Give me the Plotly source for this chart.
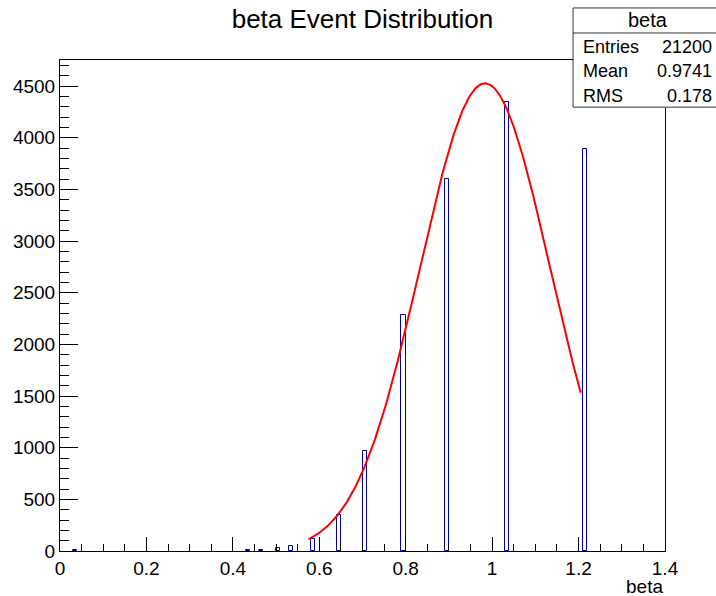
import numpy as np
import plotly.graph_objects as go

# Histogram of beta: bin low edges, bin width and counts per bin
BIN_WIDTH = 0.01
bin_lows = [0.03, 0.43, 0.46, 0.50, 0.53, 0.58, 0.64, 0.70, 0.79, 0.89, 1.03, 1.21]
bin_counts = [8, 5, 6, 26, 51, 116, 348, 965, 2284, 3604, 4346, 3888]

# Gaussian fit parameters and fit range
FIT_CONST = 4526.0
FIT_MEAN = 0.9835
FIT_SIGMA = 0.1505
FIT_LO, FIT_HI = 0.575, 1.205

# Statistics box contents
STAT_NAME = "beta"
ENTRIES = 21200
MEAN = 0.9741
RMS = 0.178

X_RANGE = [0, 1.4]
Y_MAX = 1.05 * FIT_CONST

FONT = "Liberation Sans, Arial, Helvetica, sans-serif"

centers = [lo + BIN_WIDTH / 2 for lo in bin_lows]
fit_x = np.linspace(FIT_LO, FIT_HI, 300)
fit_y = FIT_CONST * np.exp(-0.5 * ((fit_x - FIT_MEAN) / FIT_SIGMA) ** 2)

fig = go.Figure()
fig.add_trace(go.Bar(
    x=centers, y=bin_counts, width=BIN_WIDTH,
    marker=dict(color="white", line=dict(color="#000099", width=1)),
    showlegend=False, hoverinfo="x+y",
))
fig.add_trace(go.Scatter(
    x=fit_x, y=fit_y, mode="lines",
    line=dict(color="#ff0000", width=2),
    showlegend=False, hoverinfo="skip",
))

axis_common = dict(
    showline=True, linecolor="black", linewidth=1, mirror=True,
    showgrid=False, zeroline=False,
    ticks="inside", tickcolor="black", tickwidth=1,
    tickfont=dict(family=FONT, size=19, color="black"),
)

fig.update_xaxes(
    range=X_RANGE, tick0=0, dtick=0.2, ticklen=14,
    minor=dict(ticks="inside", dtick=0.05, ticklen=7, tickcolor="black", showgrid=False),
    **axis_common,
)
fig.update_yaxes(
    range=[0, Y_MAX], tick0=0, dtick=500, ticklen=18,
    minor=dict(ticks="inside", dtick=100, ticklen=9, tickcolor="black", showgrid=False),
    **axis_common,
)

# Statistics box (paper coordinates, extends past the frame on the right)
bx0, bx1 = 0.848, 1.095
by0, by1 = 0.904, 1.106
div_y = 1.055
fig.add_shape(type="rect", xref="paper", yref="paper", x0=bx0, x1=bx1, y0=by0, y1=by1,
              fillcolor="white", line=dict(color="#333333", width=1), layer="above")
fig.add_shape(type="line", xref="paper", yref="paper", x0=bx0, x1=bx1, y0=div_y, y1=div_y,
              line=dict(color="#333333", width=1), layer="above")

fig.add_annotation(text=STAT_NAME, xref="paper", yref="paper", x=(bx0 + bx1) / 2, y=1.0815,
                   xanchor="center", yanchor="middle", showarrow=False,
                   font=dict(family=FONT, size=20, color="black"))
rows = [("Entries", f"{ENTRIES}", 1.0265), ("Mean", f"{MEAN:.4g}", 0.9776), ("RMS", f"{RMS:.4g}", 0.9267)]
for label, value, yy in rows:
    fig.add_annotation(text=label, xref="paper", yref="paper", x=0.8612, y=yy,
                       xanchor="left", yanchor="middle", showarrow=False,
                       font=dict(family=FONT, size=18, color="black"))
    fig.add_annotation(text=value, xref="paper", yref="paper", x=1.081, y=yy,
                       xanchor="right", yanchor="middle", showarrow=False,
                       font=dict(family=FONT, size=18, color="black"))

# x-axis title at the lower right
fig.add_annotation(text="beta", xref="paper", yref="paper", x=1.0, y=-0.0713,
                   xanchor="right", yanchor="middle", showarrow=False,
                   font=dict(family=FONT, size=19, color="black"))

fig.update_layout(
    width=716, height=596,
    margin=dict(l=60, r=51, t=60, b=45),
    paper_bgcolor="white", plot_bgcolor="white",
    bargap=0,
    title=dict(text="beta Event Distribution", x=0.5, xref="paper", xanchor="center",
               y=1 - 19 / 596, yref="container", yanchor="middle",
               font=dict(family=FONT, size=26, color="black")),
)

fig.write_html("out.html")
